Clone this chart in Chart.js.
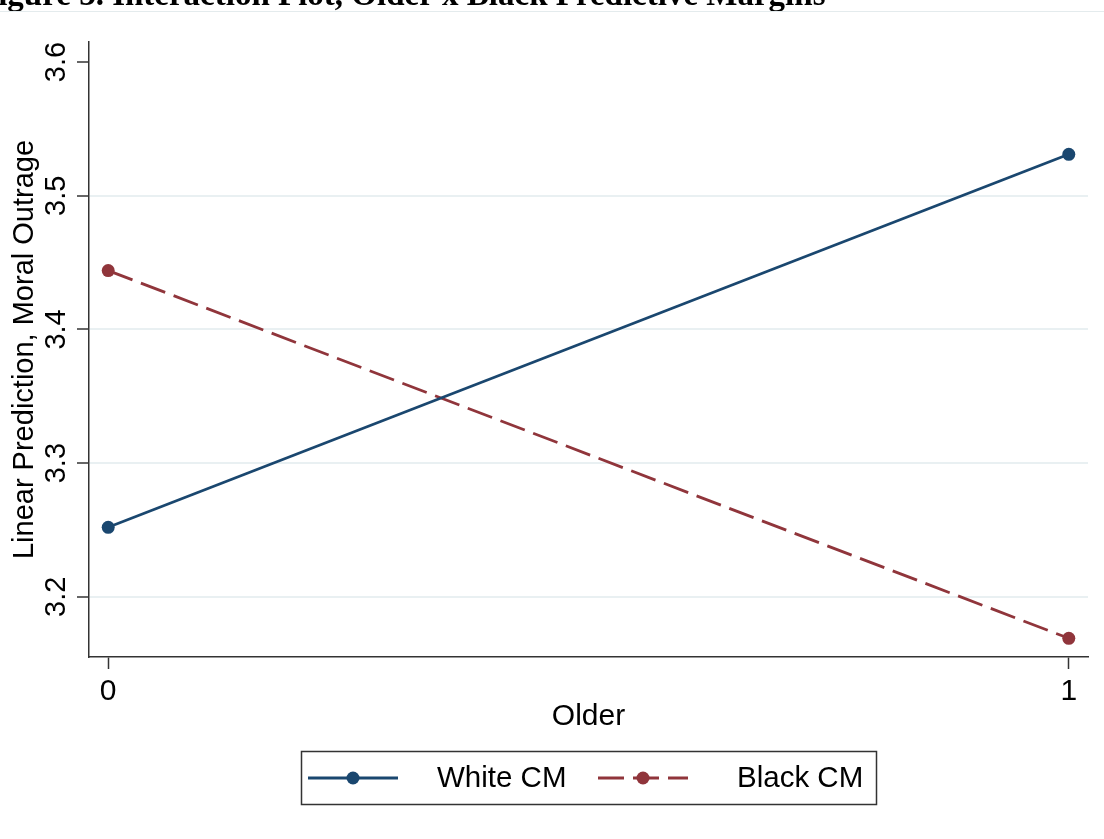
<!DOCTYPE html>
<html>
<head>
<meta charset="utf-8">
<script src="https://cdn.jsdelivr.net/npm/chart.js@4.4.1/dist/chart.umd.min.js"></script>
<style>
  html, body { margin: 0; padding: 0; background: #ffffff; }
  #wrap { width: 1104px; height: 839px; }
</style>
</head>
<body>
<div id="wrap"><canvas id="c" width="1104" height="839"></canvas></div>
<script>
// ---- data ----
const older = [0, 1];
const whiteCM = [3.252, 3.531];
const blackCM = [3.444, 3.169];
const seriesNames = ['White CM', 'Black CM'];
const yTicks = [3.2, 3.3, 3.4, 3.5, 3.6];
const xTicks = [0, 1];
const titleText = 'Figure 3. Interaction Plot, Older x Black Predictive Margins';
const xTitle = 'Older';
const yTitle = 'Linear Prediction, Moral Outrage';

const NAVY = '#1a476f';
const MAROON = '#90353b';
const FONT = "'Liberation Sans', Arial, sans-serif";
const DASH = [26, 9];

const toPts = (ys) => older.map((x, i) => ({ x: x, y: ys[i] }));

const decor = {
  id: 'decor',
  beforeDraw(chart) {
    const ctx = chart.ctx;
    ctx.save();
    ctx.fillStyle = '#ffffff';
    ctx.fillRect(0, 0, chart.width, chart.height);
    ctx.restore();
  },
  afterDraw(chart) {
    const ctx = chart.ctx;
    const ys = chart.scales.y;
    const area = chart.chartArea;
    ctx.save();
    // clipped page title
    ctx.fillStyle = '#000';
    ctx.font = "bold 33px 'Liberation Serif', 'Times New Roman', serif";
    ctx.textAlign = 'left';
    ctx.textBaseline = 'alphabetic';
    ctx.fillText(titleText, -22, 5);
    ctx.strokeStyle = '#e4ebed';
    ctx.lineWidth = 1;
    ctx.beginPath();
    ctx.moveTo(0, 11.5);
    ctx.lineTo(chart.width, 11.5);
    ctx.stroke();

    // rotated y tick labels
    ctx.font = '29px ' + FONT;
    ctx.fillStyle = '#000';
    ctx.textAlign = 'center';
    ctx.textBaseline = 'alphabetic';
    yTicks.forEach(v => {
      const py = ys.getPixelForValue(v);
      ctx.save();
      ctx.translate(65, py);
      ctx.rotate(-Math.PI / 2);
      ctx.fillText(v.toFixed(1), 0, 0);
      ctx.restore();
    });
    // y title
    ctx.save();
    ctx.translate(33, (area.top + area.bottom) / 2);
    ctx.rotate(-Math.PI / 2);
    ctx.fillText(yTitle, 0, 0);
    ctx.restore();

    // legend
    const bx = 301, by = 751, bw = 575, bh = 53;
    ctx.strokeStyle = '#333';
    ctx.lineWidth = 1.5;
    ctx.strokeRect(bx + 0.5, by + 0.5, bw, bh);
    const cy = by + bh / 2 + 0.5;
    const items = [
      { x0: 308, x1: 398, xt: 437, ds: chart.data.datasets[0] },
      { x0: 598, x1: 688, xt: 737, ds: chart.data.datasets[1] }
    ];
    items.forEach(it => {
      ctx.strokeStyle = it.ds.borderColor;
      ctx.lineWidth = 2.8;
      ctx.setLineDash(it.ds.borderDash || []);
      ctx.beginPath();
      ctx.moveTo(it.x0, cy);
      ctx.lineTo(it.x1, cy);
      ctx.stroke();
      ctx.setLineDash([]);
      ctx.fillStyle = it.ds.pointBackgroundColor;
      ctx.beginPath();
      ctx.arc((it.x0 + it.x1) / 2, cy, 6.5, 0, Math.PI * 2);
      ctx.fill();
      ctx.fillStyle = '#000';
      ctx.font = '29.5px ' + FONT;
      ctx.textAlign = 'left';
      ctx.textBaseline = 'middle';
      ctx.fillText(it.ds.label, it.xt, cy + 1);
    });
    ctx.restore();
  }
};

new Chart(document.getElementById('c'), {
  type: 'line',
  data: {
    datasets: [
      {
        label: seriesNames[0],
        data: toPts(whiteCM),
        borderColor: NAVY,
        backgroundColor: NAVY,
        pointBackgroundColor: NAVY,
        pointBorderWidth: 0,
        pointRadius: 6.5,
        borderWidth: 2.8,
        fill: false,
        tension: 0
      },
      {
        label: seriesNames[1],
        data: toPts(blackCM),
        borderColor: MAROON,
        backgroundColor: MAROON,
        pointBackgroundColor: MAROON,
        pointBorderWidth: 0,
        pointRadius: 6.5,
        borderWidth: 2.8,
        borderDash: DASH,
        fill: false,
        tension: 0
      }
    ]
  },
  options: {
    responsive: false,
    animation: false,
    devicePixelRatio: 1,
    layout: { padding: { left: 0, right: 16, top: 42, bottom: 0 } },
    plugins: {
      legend: { display: false },
      title: { display: false },
      tooltip: { enabled: false }
    },
    scales: {
      x: {
        type: 'linear',
        min: -0.02,
        max: 1.02,
        afterBuildTicks: (s) => { s.ticks = xTicks.map(v => ({ value: v })); },
        afterFit: (s) => { s.height = 182; },
        ticks: {
          font: { family: FONT, size: 30 },
          color: '#000',
          padding: 5,
          callback: (v) => String(v)
        },
        grid: {
          drawOnChartArea: false,
          drawTicks: true,
          tickLength: 12,
          tickColor: '#333',
          tickWidth: 1.5,
          color: 'transparent'
        },
        border: { display: true, color: '#333', width: 1.5 },
        title: {
          display: true,
          text: xTitle,
          font: { family: FONT, size: 30 },
          color: '#000',
          padding: { top: 0, bottom: 104 }
        }
      },
      y: {
        type: 'linear',
        min: 3.155,
        max: 3.615,
        afterBuildTicks: (s) => { s.ticks = yTicks.map(v => ({ value: v })); },
        afterFit: (s) => { s.width = 89; },
        ticks: { display: false },
        grid: {
          drawOnChartArea: true,
          drawTicks: true,
          tickLength: 12,
          tickColor: '#333',
          tickWidth: 1.5,
          lineWidth: 2,
          color: (ctx) => (ctx.tick && ctx.tick.value === 3.6) ? 'rgba(0,0,0,0)' : '#e9f0f2'
        },
        border: { display: true, color: '#333', width: 1.5 }
      }
    }
  },
  plugins: [decor]
});
</script>
</body>
</html>
